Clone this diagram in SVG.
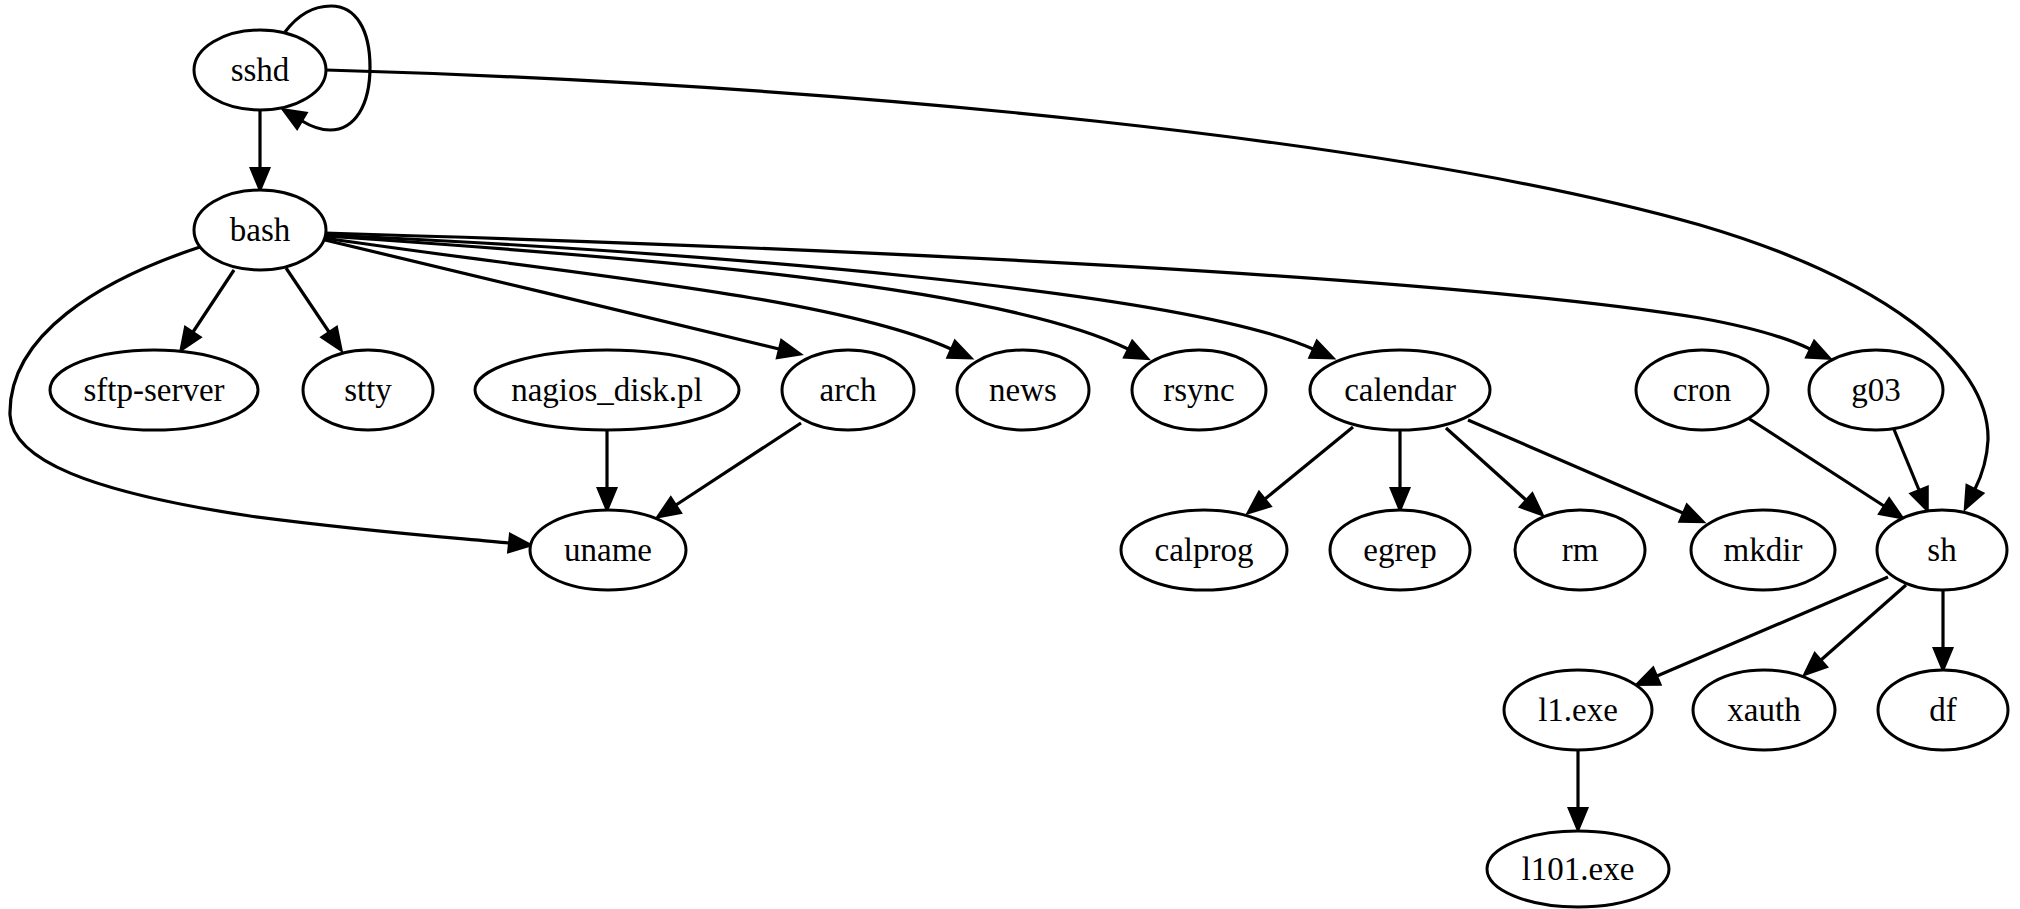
<svg xmlns="http://www.w3.org/2000/svg" width="2020" height="909" viewBox="0 0 2020 909">
<style>
  .node ellipse { fill: #ffffff; stroke: #000000; stroke-width: 3; }
  .node text { font-family: "Liberation Serif", "Times New Roman", serif; font-size: 33px; fill: #000000; text-anchor: middle; }
  .edge { fill: none; stroke: #000000; stroke-width: 3.2; marker-end: url(#arrow); }
</style>
<defs>
  <marker id="arrow" markerUnits="userSpaceOnUse" markerWidth="28" markerHeight="24" refX="0" refY="10" orient="auto" overflow="visible">
    <path d="M0,0.5 L23,10 L0,19.5 Z" fill="#000000" stroke="#000000" stroke-width="2" stroke-linejoin="miter"/>
  </marker>
</defs>
<rect width="2020" height="909" fill="#ffffff"/>
<g id="edges">
  <path class="edge" d="M285,32 C300,12 315,6 331,6 C356,6 370,30 370,67 C370,105 355,130 330,130 C322,130 312,127 302,121"/>
  <path class="edge" d="M260,110 L260,168"/>
  <path class="edge" d="M326,70 C850,85 1400,140 1700,225 C1880,278 1990,360 1988,440 C1987,460 1982,475 1975,489"/>
  <path class="edge" d="M234,270 L193,332"/>
  <path class="edge" d="M286,268 L329,332"/>
  <path class="edge" d="M200,247 C100,280 8,335 10,415 C12,460 90,492 250,516 C380,533 460,538 509,543"/>
  <path class="edge" d="M325,240 C450,270 660,320 779,349"/>
  <path class="edge" d="M325,238 C550,272 830,295 951,349"/>
  <path class="edge" d="M325,236 C650,258 1000,286 1128,349"/>
  <path class="edge" d="M325,235 C700,252 1180,290 1313,349"/>
  <path class="edge" d="M325,233 C900,250 1450,278 1700,318 C1750,327 1785,337 1810,349"/>
  <path class="edge" d="M607,430 L607,488"/>
  <path class="edge" d="M801,423 L676,505"/>
  <path class="edge" d="M1353,427 L1265,499"/>
  <path class="edge" d="M1400,430 L1400,488"/>
  <path class="edge" d="M1446,428 L1526,500"/>
  <path class="edge" d="M1468,420 L1683,513"/>
  <path class="edge" d="M1748,418 L1884,506"/>
  <path class="edge" d="M1893,427 L1919,490"/>
  <path class="edge" d="M1888,577 L1657,676"/>
  <path class="edge" d="M1906,585 L1821,660"/>
  <path class="edge" d="M1943,590 L1943,648"/>
  <path class="edge" d="M1578,750 L1578,808"/>
</g>
<g id="node-sshd" class="node"><ellipse cx="260" cy="70" rx="66" ry="40"/><text x="260" y="81">sshd</text></g>
<g id="node-bash" class="node"><ellipse cx="260" cy="230" rx="66" ry="40"/><text x="260" y="241">bash</text></g>
<g id="node-sftp-server" class="node"><ellipse cx="154" cy="390" rx="104" ry="40"/><text x="154" y="401">sftp-server</text></g>
<g id="node-stty" class="node"><ellipse cx="368" cy="390" rx="65" ry="40"/><text x="368" y="401">stty</text></g>
<g id="node-nagios_disk" class="node"><ellipse cx="607" cy="390" rx="132" ry="40"/><text x="607" y="401">nagios_disk.pl</text></g>
<g id="node-arch" class="node"><ellipse cx="848" cy="390" rx="66" ry="40"/><text x="848" y="401">arch</text></g>
<g id="node-news" class="node"><ellipse cx="1023" cy="390" rx="66" ry="40"/><text x="1023" y="401">news</text></g>
<g id="node-rsync" class="node"><ellipse cx="1199" cy="390" rx="67" ry="40"/><text x="1199" y="401">rsync</text></g>
<g id="node-calendar" class="node"><ellipse cx="1400" cy="390" rx="90" ry="40"/><text x="1400" y="401">calendar</text></g>
<g id="node-cron" class="node"><ellipse cx="1702" cy="390" rx="66" ry="40"/><text x="1702" y="401">cron</text></g>
<g id="node-g03" class="node"><ellipse cx="1876" cy="390" rx="67" ry="40"/><text x="1876" y="401">g03</text></g>
<g id="node-uname" class="node"><ellipse cx="608" cy="550" rx="78" ry="40"/><text x="608" y="561">uname</text></g>
<g id="node-calprog" class="node"><ellipse cx="1204" cy="550" rx="83" ry="40"/><text x="1204" y="561">calprog</text></g>
<g id="node-egrep" class="node"><ellipse cx="1400" cy="550" rx="70" ry="40"/><text x="1400" y="561">egrep</text></g>
<g id="node-rm" class="node"><ellipse cx="1580" cy="550" rx="65" ry="40"/><text x="1580" y="561">rm</text></g>
<g id="node-mkdir" class="node"><ellipse cx="1763" cy="550" rx="72" ry="40"/><text x="1763" y="561">mkdir</text></g>
<g id="node-sh" class="node"><ellipse cx="1942" cy="550" rx="65" ry="40"/><text x="1942" y="561">sh</text></g>
<g id="node-l1exe" class="node"><ellipse cx="1578" cy="710" rx="74" ry="40"/><text x="1578" y="721">l1.exe</text></g>
<g id="node-xauth" class="node"><ellipse cx="1764" cy="710" rx="71" ry="40"/><text x="1764" y="721">xauth</text></g>
<g id="node-df" class="node"><ellipse cx="1943" cy="710" rx="65" ry="40"/><text x="1943" y="721">df</text></g>
<g id="node-l101exe" class="node"><ellipse cx="1578" cy="869" rx="91" ry="38"/><text x="1578" y="880">l101.exe</text></g>
</svg>
